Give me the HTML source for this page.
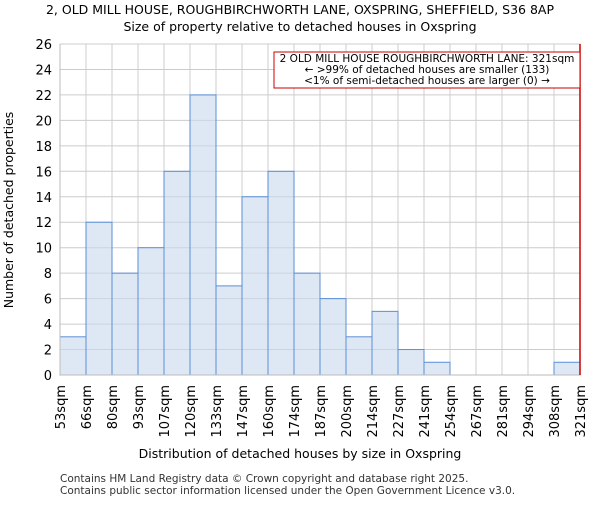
<!DOCTYPE html>
<html><head><meta charset="utf-8"><style>body{margin:0;background:#fff}svg{font-family:"DejaVu Sans","Liberation Sans",sans-serif}</style></head>
<body>
<svg id="chart" width="600" height="500" xmlns="http://www.w3.org/2000/svg">
<text x="300" y="14" font-size="12.5" text-anchor="middle">2, OLD MILL HOUSE, ROUGHBIRCHWORTH LANE, OXSPRING, SHEFFIELD, S36 8AP</text>
<text x="300" y="31" font-size="12.5" text-anchor="middle">Size of property relative to detached houses in Oxspring</text>
<g id="grid"></g><g id="bars"></g><g id="axes"></g>
<text x="300" y="458" font-size="12.5" text-anchor="middle">Distribution of detached houses by size in Oxspring</text>
<text transform="translate(13,210) rotate(-90)" font-size="12.5" text-anchor="middle">Number of detached properties</text>
<text x="60" y="482" font-size="10.5" fill="#333">Contains HM Land Registry data © Crown copyright and database right 2025.</text>
<text x="60" y="494" font-size="10.5" fill="#333">Contains public sector information licensed under the Open Government Licence v3.0.</text>
</svg>
<script>
const binLabels=["53sqm","66sqm","80sqm","93sqm","107sqm","120sqm","133sqm","147sqm","160sqm","174sqm","187sqm","200sqm","214sqm","227sqm","241sqm","254sqm","267sqm","281sqm","294sqm","308sqm","321sqm"];
const counts=[3,12,8,10,16,22,7,14,16,8,6,3,5,2,1,0,0,0,0,1];
const yTicks=[0,2,4,6,8,10,12,14,16,18,20,22,24,26];
const subjectIndex=20;
const NS="http://www.w3.org/2000/svg";
const L=60,R=580,T=44,B=375,yMax=26;
const xs=i=>L+i*(R-L)/counts.length;
const ys=v=>B-v*(B-T)/yMax;
function mk(t,a,p){const e=document.createElementNS(NS,t);for(const k in a)e.setAttribute(k,a[k]);p.appendChild(e);return e;}
const g=document.getElementById('grid'),bg=document.getElementById('bars'),ax=document.getElementById('axes');
yTicks.forEach(v=>{const l=mk('line',{x1:L,x2:R,y1:ys(v),y2:ys(v),stroke:'#cccccc','stroke-width':1},g);


const t=mk('text',{x:L-8,y:ys(v)+5,'font-size':13,'text-anchor':'end'},ax);t.textContent=v;

});
binLabels.forEach((s,i)=>{const x=xs(i);const l=mk('line',{x1:x,x2:x,y1:T,y2:B,stroke:'#cccccc','stroke-width':1},g);


const t=mk('text',{transform:`translate(${x+5},385) rotate(-90)`,'font-size':13,'text-anchor':'end'},ax);t.textContent=s;

});
counts.forEach((c,i)=>{if(c<=0)return;const r=mk('rect',{x:xs(i),y:ys(c),width:xs(i+1)-xs(i),height:B-ys(c),fill:'rgba(200,216,238,0.6)',stroke:'#5a8fd6','stroke-width':1},bg);

});
const a1=mk('line',{x1:L,x2:L,y1:T,y2:B,stroke:'#bbbbbb'},ax);


const a2=mk('line',{x1:L,x2:R,y1:B,y2:B,stroke:'#bbbbbb'},ax);


const sx=xs(subjectIndex);
const ml=mk('line',{x1:sx,x2:sx,y1:T,y2:B,stroke:'#cc0000','stroke-width':1.5},ax);


const box=mk('rect',{x:274,y:52,width:sx-274,height:36,fill:'#fff',stroke:'#cc0000','stroke-width':1},ax);


["2 OLD MILL HOUSE ROUGHBIRCHWORTH LANE: 321sqm","← >99% of detached houses are smaller (133)","<1% of semi-detached houses are larger (0) →"].forEach((s,i)=>{const t=mk('text',{x:(274+sx)/2,y:62+i*11,'font-size':10.5,'text-anchor':'middle'},ax);t.textContent=s;

});
</script>
</body></html>
